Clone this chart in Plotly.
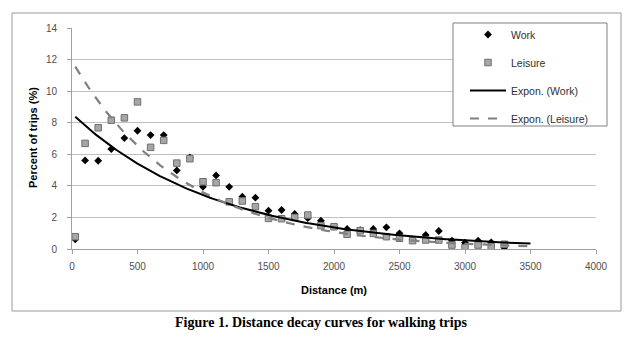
import numpy as np
import plotly.graph_objects as go

# Walking trip distance bands (m) and share of trips (%)
distance = [25, 100, 200, 300, 400, 500, 600, 700, 800, 900, 1000, 1100, 1200, 1300,
            1400, 1500, 1600, 1700, 1800, 1900, 2000, 2100, 2200, 2300, 2400, 2500,
            2600, 2700, 2800, 2900, 3000, 3100, 3200, 3300]
work = [0.61, 5.61, 5.59, 6.33, 7.03, 7.49, 7.22, 7.22, 4.98, 5.80, 3.94, 4.66, 3.94, 3.31,
        3.25, 2.43, 2.47, 2.22, 1.95, 1.79, 1.42, 1.27, 1.20, 1.27, 1.37, 0.99,
        0.60, 0.89, 1.14, 0.53, 0.40, 0.53, 0.42, 0.08]
leisure = [0.78, 6.69, 7.68, 8.16, 8.31, 9.32, 6.44, 6.88, 5.44, 5.72, 4.26, 4.20, 2.99, 3.04,
           2.68, 1.94, 1.92, 2.00, 2.15, 1.48, 1.41, 0.93, 1.16, 0.99, 0.78, 0.68,
           0.53, 0.57, 0.57, 0.25, 0.08, 0.25, 0.15, 0.30]

# Exponential trendlines y = a * exp(-b * x)
work_fit = (8.57, 0.00092)
leisure_fit = (11.9, 0.00120)
trend_start, trend_end = 25, 3500

x_ticks = [0, 500, 1000, 1500, 2000, 2500, 3000, 3500, 4000]
y_ticks = [0, 2, 4, 6, 8, 10, 12, 14]

xs = np.linspace(trend_start, trend_end, 200)

fig = go.Figure()
fig.add_trace(go.Scatter(
    x=distance, y=work, mode="markers", name="Work", legendgroup="a",
    marker=dict(symbol="diamond", size=6, color="black", line=dict(width=0))))
fig.add_trace(go.Scatter(
    x=distance, y=leisure, mode="markers", name="Leisure", legendgroup="b",
    marker=dict(symbol="square", size=6.5, color="#a6a6a6",
                line=dict(color="#6f6f6f", width=1))))
fig.add_trace(go.Scatter(
    x=xs, y=work_fit[0] * np.exp(-work_fit[1] * xs), mode="lines",
    name="Expon. (Work)", legendgroup="c",
    line=dict(color="black", width=2)))
fig.add_trace(go.Scatter(
    x=xs, y=leisure_fit[0] * np.exp(-leisure_fit[1] * xs), mode="lines",
    name="Expon. (Leisure)", legendgroup="d",
    line=dict(color="#808080", width=2.2, dash="dash")))

# plot area spans 72..596 px horizontally, 28..249 px vertically
L, R, T, B = 72, 44, 28, 93
W, H = 640 - L - R, 342 - T - B


def px(xp):
    return (xp - L) / W


def py(yp):
    return (342 - B - yp) / H


sans = "Liberation Sans, Arial, sans-serif"
tick_font = dict(family=sans, size=10, color="#505050")
title_font = dict(family=sans, size=11, color="black")

fig.update_layout(
    width=640, height=342,
    margin=dict(l=L, r=R, t=T, b=B),
    paper_bgcolor="white", plot_bgcolor="white",
    font=tick_font,
    xaxis=dict(range=[0, 4000], tickvals=x_ticks, showgrid=False, zeroline=False,
               showline=True, linecolor="#a0a0a0", linewidth=1,
               ticks="outside", ticklen=4, tickcolor="#a0a0a0", tickfont=tick_font,
               ticklabelstandoff=4),
    yaxis=dict(range=[0, 14], tickvals=y_ticks, showgrid=True, gridcolor="#c0c0c0",
               gridwidth=1, zeroline=False, showline=True, linecolor="#a0a0a0",
               linewidth=1, ticks="outside", ticklen=4, tickcolor="#a0a0a0",
               tickfont=tick_font, ticklabelstandoff=8),
    legend=dict(x=px(465), y=py(20), xanchor="left", yanchor="top",
                bgcolor="rgba(0,0,0,0)", borderwidth=0,
                font=dict(family=sans, size=10.5, color="#303030"),
                tracegroupgap=9, itemwidth=36),
    showlegend=True,
    shapes=[
        # outer chart frame
        dict(type="rect", xref="paper", yref="paper",
             x0=px(12), x1=px(621), y0=py(311), y1=py(13),
             line=dict(color="#9a9a9a", width=1), layer="below"),
        # legend frame
        dict(type="rect", xref="paper", yref="paper",
             x0=px(453), x1=px(607), y0=py(126), y1=py(23),
             line=dict(color="#808080", width=1), fillcolor="white", layer="above"),
    ],
    annotations=[
        dict(text="<b>Distance (m)</b>", xref="paper", yref="paper",
             x=px(334), y=py(290), xanchor="center", yanchor="middle", showarrow=False,
             font=title_font),
        dict(text="<b>Percent of trips (%)</b>", xref="paper", yref="paper",
             x=px(33), y=py(138), xanchor="center", yanchor="middle", showarrow=False,
             textangle=-90, font=title_font),
        dict(text="<b>Figure 1. Distance decay curves for walking trips</b>",
             xref="paper", yref="paper", x=px(321), y=py(322),
             xanchor="center", yanchor="middle", showarrow=False,
             font=dict(family="Liberation Serif, Times New Roman, serif", size=14,
                       color="black")),
    ],
)

fig.write_html("out.html")
